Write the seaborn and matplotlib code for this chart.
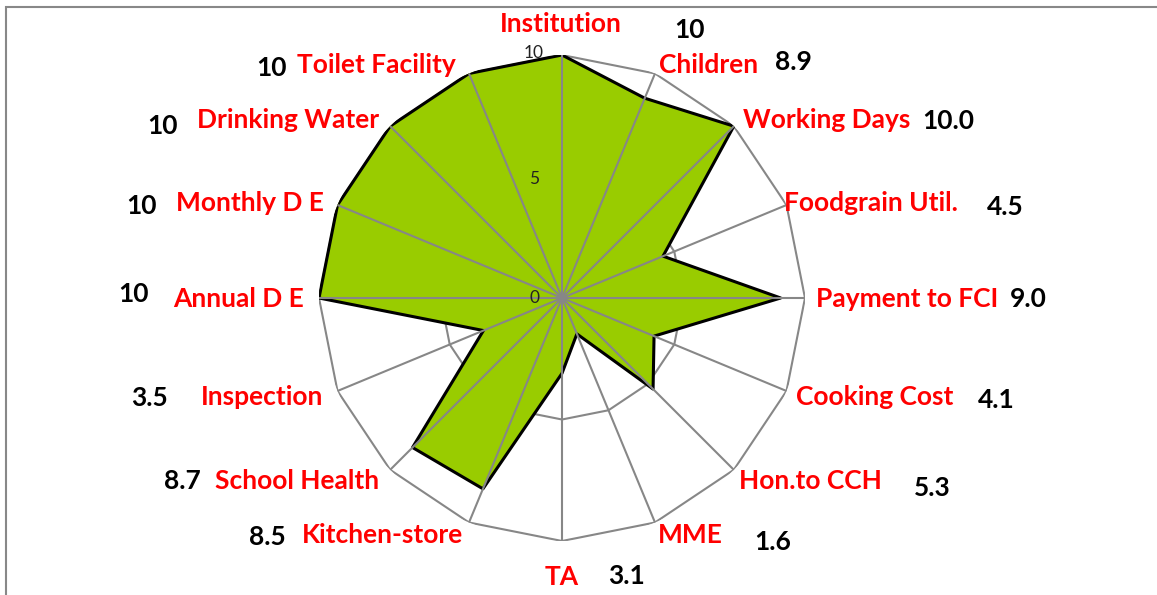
import numpy as np
import pandas as pd
import matplotlib
matplotlib.use("Agg")
import matplotlib.pyplot as plt
import seaborn as sns
from matplotlib.patches import Rectangle

categories = ["Institution", "Children", "Working Days", "Foodgrain Util.",
              "Payment to FCI", "Cooking Cost", "Hon.to CCH", "MME", "TA",
              "Kitchen-store", "School Health", "Inspection", "Annual D E",
              "Monthly D E", "Drinking Water", "Toilet Facility"]
values = [10, 8.9, 10.0, 4.5, 9.0, 4.1, 5.3, 1.6, 3.1, 8.5, 8.7, 3.5, 10, 10, 10, 10]
value_labels = ["10", "8.9", "10.0", "4.5", "9.0", "4.1", "5.3", "1.6", "3.1",
                "8.5", "8.7", "3.5", "10", "10", "10", "10"]
r_ticks = [0, 5, 10]

# label positions in image pixels (x, y from top)
cat_pos = [(561, 24), (709, 65), (827, 120), (871, 203), (907, 299), (875, 397),
           (810, 481), (690, 535), (562, 577), (382, 535), (297, 481), (262, 397),
           (239, 299), (250, 203), (288, 120), (376, 65)]
val_pos = [(690, 30), (793, 62), (948, 121), (1005, 207), (1028, 299), (996, 400),
           (932, 488), (773, 542), (626, 576), (267, 537), (182, 481), (149, 398),
           (134, 294), (142, 206), (163, 126), (271, 68)]

sns.set_theme(style="white")
plt.rcParams["font.family"] = ["Lato", "DejaVu Sans"]

W, H = 1157, 595
fig = plt.figure(figsize=(W / 100, H / 100), dpi=100)
fig.patch.set_facecolor("white")

cx, cy, R = 562, 298, 243
ax = fig.add_axes([(cx - R) / W, (H - cy - R) / H, 2 * R / W, 2 * R / H],
                  projection="polar")
ax.set_theta_zero_location("N")
ax.set_theta_direction(-1)
ax.set_ylim(0, 10)
ax.grid(False)
ax.spines["polar"].set_visible(False)
ax.set_xticks([])
ax.set_yticks([])
ax.patch.set_alpha(0)

n = len(categories)
theta = np.arange(n) * 2 * np.pi / n
df = pd.DataFrame({"theta": np.append(theta, theta[0]),
                   "value": np.append(values, values[0])})

grid_color = "#878787"
closed = np.append(theta, theta[0])
# rings below the fill
for rv in r_ticks[1:]:
    ax.plot(closed, np.full(len(closed), rv), color=grid_color, lw=1.5, zorder=1)

ax.fill(df["theta"], df["value"], color="#99CC00", zorder=2)
sns.lineplot(data=df, x="theta", y="value", sort=False, estimator=None,
             color="black", linewidth=2.2, ax=ax, zorder=3)

# spokes above the fill
for t in theta:
    ax.plot([t, t], [0, r_ticks[-1]], color=grid_color, lw=1.5, zorder=4)
ax.set_xlabel("")
ax.set_ylabel("")
ax.set_ylim(0, 10)

for rv in r_ticks:
    ax.annotate(str(rv), xy=(0, rv), xytext=(-28, 2 if rv == 10 else -2 if rv == 5 else 0),
                textcoords="offset pixels", ha="center", va="center",
                fontsize=12.5, color="#222222", zorder=6)

for (x, y), lab in zip(cat_pos, categories):
    fig.text(x / W, 1 - y / H, lab, ha="center", va="center", color="#FF0000",
             fontsize=19, fontweight="bold")
for (x, y), lab in zip(val_pos, value_labels):
    fig.text(x / W, 1 - y / H, lab, ha="center", va="center", color="black",
             fontsize=19, fontweight="bold")

fig.patches.append(Rectangle((6 / W, -0.1), 1.2, 1 - 7 / H + 0.1,
                             transform=fig.transFigure, fill=False,
                             edgecolor="#888888", lw=1.5))

fig.savefig("out.png", dpi=100)
